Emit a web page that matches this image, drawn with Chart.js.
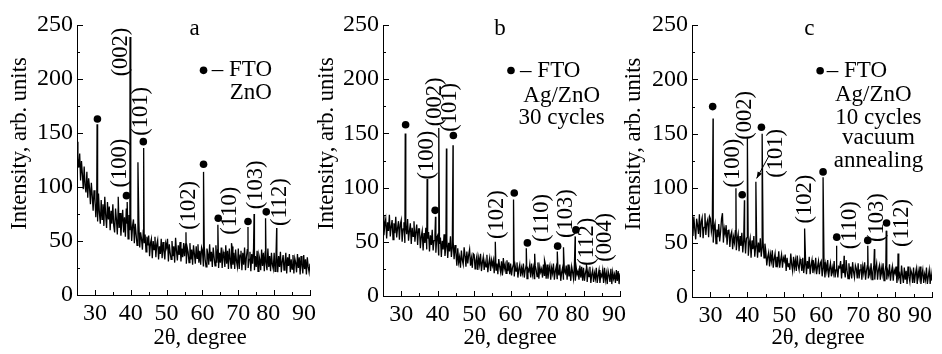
<!DOCTYPE html>
<html><head><meta charset="utf-8">
<script src="https://cdn.jsdelivr.net/npm/chart.js@4.4.1/dist/chart.umd.min.js"></script>
<style>
html,body{margin:0;padding:0;background:#fff;}
#wrap{position:relative;width:942px;height:354px;overflow:hidden;background:#fff;}
#wrap canvas{position:absolute;left:0;top:0;}
</style></head><body>
<div id="wrap">
<canvas id="ca" width="942" height="354"></canvas>
<canvas id="cb" width="942" height="354"></canvas>
<canvas id="cc" width="942" height="354"></canvas>
</div>
<script>
// ---------- axis ticks ----------
const xTickVals = [30,40,50,60,70,80,90];
const xMinorVals = [35,45,55,65,75,85];
const yTickVals = [0,50,100,150,200,250];
const yMinorVals = [25,75,125,175,225];

// ---------- measured pattern: background readings every 0.25 deg from 25 to 90 ----------
const angleStart = 25, angleStep = 0.25;

const backgroundA = [
 142,126,118,131,106,124,112,98,119,101,95,114,90,108,99,84,104,92,78,97,
 90,72,86,68,94,76,66,88,70,84,64,91,74,62,86,70,82,60,78,66,
 84,64,58,80,70,56,82,62,76,55,68,79,58,72,54,80,66,52,74,60,
 72,50,64,70,48,66,56,46,62,68,44,58,52,42,60,48,56,40,54,46,
 55,36,48,52,34,50,42,54,35,47,51,33,45,38,52,34,49,41,33,48,
 44,52,31,47,39,33,50,36,45,30,53,41,32,46,37,49,31,43,35,48,
 36,47,29,44,40,30,48,33,42,28,46,38,29,45,34,47,30,41,28,44,
 41,27,45,33,26,43,38,28,47,31,40,26,44,35,27,46,30,42,25,39,
 30,44,25,40,36,26,46,29,41,24,43,33,25,45,28,39,24,42,31,26,
 43,24,37,41,23,39,28,44,23,35,42,25,33,40,22,38,29,43,23,36,
 26,41,22,37,33,23,42,27,39,22,40,30,23,43,26,36,22,39,28,24,
 39,22,34,38,21,36,26,40,21,31,37,23,30,39,20,35,27,38,21,33,
 24,37,20,34,30,21,38,25,35,19,36,28,20,37,24,33,19,35,26,21,
 29];
const peakAngleA = [30.6,36.5,39.0,39.8,42.0,43.6,55.4,60.3,64.3,68.1,72.7,74.4,77.6,80.7];
const peakIntA   = [158,91,86,239,123,136,58,114,65,48,63,75,71,62];
const ftoAngleA  = [30.7,38.8,43.5,60.3,64.4,72.7,77.8];
const ftoIntA    = [163,92,142,121,71,68,77];

const backgroundB = [
 74,56,66,71,53,68,60,75,55,64,70,52,67,58,73,54,63,69,52,66,
 70,50,62,68,49,65,57,71,51,60,67,48,63,55,69,50,59,66,47,62,
 62,44,55,60,42,58,49,63,43,53,59,41,56,47,61,42,51,57,40,54,
 56,38,48,54,36,51,43,57,37,46,53,35,49,41,55,36,45,50,34,47,
 40,28,44,31,36,26,42,33,29,45,37,27,41,30,38,43,28,35,26,39,
 38,25,33,37,24,35,29,39,23,31,36,24,32,27,38,22,30,35,23,33,
 28,33,21,36,24,30,20,34,27,22,32,19,35,25,29,21,33,23,31,20,
 30,19,26,29,18,28,23,31,17,25,29,18,26,21,30,17,24,28,16,25,
 23,29,17,30,20,26,16,28,24,18,31,16,27,22,25,17,29,19,30,16,
 29,16,24,28,15,26,21,30,15,23,27,16,24,19,29,14,22,26,15,23,
 21,28,15,29,18,24,14,27,22,16,29,14,26,20,23,15,28,17,27,14,
 26,14,21,25,13,23,18,27,12,20,24,13,21,16,26,12,19,24,12,20,
 18,24,12,26,15,21,11,23,19,13,25,11,22,16,20,12,24,14,23,11,
 21];
const peakAngleB = [31.1,37.1,39.4,40.3,42.4,44.2,55.8,60.8,64.3,66.6,69.3,72.8,74.5,77.7,80.8];
const peakIntB   = [150,108,73,155,136,139,50,89,44,39,33,41,45,55,30];
const ftoAngleB  = [31.2,39.3,44.3,61.0,64.6,72.9,77.9];
const ftoIntB    = [158,79,148,95,49,46,61];

const backgroundC = [
 70,56,74,62,53,72,66,58,76,55,69,73,54,64,77,57,68,71,55,74,
 72,60,66,50,64,68,49,62,55,67,51,60,72,77,50,63,58,66,48,61,
 62,46,57,60,44,55,50,61,43,53,58,42,56,47,59,41,52,57,40,54,
 55,38,49,54,36,52,44,56,37,47,53,36,50,41,54,37,46,51,36,49,
 42,29,37,41,28,39,33,43,27,35,40,28,37,31,42,27,34,39,27,36,
 33,39,24,36,28,31,25,40,30,24,37,27,34,24,38,29,25,35,31,24,
 36,22,30,35,21,33,26,37,21,29,34,22,30,25,36,21,28,33,21,31,
 33,19,27,32,18,30,24,34,18,26,31,19,27,22,33,18,25,30,18,28,
 27,33,17,30,22,25,18,34,24,17,31,21,28,17,32,23,18,29,26,17,
 31,17,25,30,16,28,22,32,16,24,29,17,25,20,31,16,23,29,16,26,
 31,16,25,29,16,27,21,31,15,23,29,16,24,20,30,15,23,28,15,25,
 22,28,13,26,18,21,12,29,20,13,27,16,24,12,28,19,14,25,22,13,
 27,13,21,26,12,24,18,28,12,20,25,13,21,16,27,12,19,25,12,22,
 15];
const peakAngleC = [30.7,36.9,39.2,40.0,42.3,44.0,55.5,60.5,64.1,66.2,72.6,74.4,77.6,80.8];
const peakIntC   = [164,100,89,146,106,150,63,110,47,38,47,44,61,40];
const ftoAngleC  = [30.6,38.6,43.8,60.5,64.2,72.6,77.7];
const ftoIntC    = [175,94,156,115,55,52,68];

// ---------- texts ----------
const hklA = ['(002)','(101)','(100)','(102)','(110)','(103)','(112)'];
const hklB = ['(100)','(002)','(101)','(102)','(110)','(103)','(112)','(004)'];
const hklC = ['(100)','(002)','(101)','(102)','(110)','(103)','(112)'];
const panelLetters = ['a','b','c'];
const notesA = ['ZnO'];
const notesB = ['Ag/ZnO','30 cycles'];
const notesC = ['Ag/ZnO','10 cycles','vacuum','annealing'];
const ftoLegend = '\u2013 FTO';
const yTitle = 'Intensity, arb. units';
const xTitle = '2\u03b8, degree';

// ---------- layout (positions in data units of each panel) ----------
const FF = "'Liberation Serif','DejaVu Serif','Times New Roman',serif";
const EN = '\u2002';
const layouts = [
 { id:'ca', padLeft:0,   yW:77, padRight:632, xH:59, tickPad:{80:EN, 90:EN}, letter:[57.8,246],
   legend:[60.3,208,62.6], notes:[[73.5,187]], hklPos:[[37.2,225],[42.8,170],[36.9,122],[56.4,83],[67.8,78],[74.9,102],[81.6,86]],
   yTitlePos:[20,143.5], xTitlePos:[200,338], arrow:null },
 { id:'cb', padLeft:318, yW:65, padRight:322, xH:58, tickPad:{80:EN, 90:EN}, letter:[57.1,246],
   legend:[60.1,208,62.6], notes:[[74,185],[74,164]], hklPos:[[37.2,130],[39.3,179],[43.4,174],[56.2,75],[68.7,72],[75.2,76],[80.9,50],[85.9,54]],
   yTitlePos:[327,143.5], xTitlePos:[510,338], arrow:null },
 { id:'cc', padLeft:628, yW:64, padRight:10, xH:57, tickPad:{80:EN, 90:EN+EN}, letter:[56.8,246],
   legend:[59.7,208,61.5], notes:[[74.1,186],[75.5,165],[75.5,146],[75.5,125]], hklPos:[[36.2,123],[39.4,167],[47.9,132],[55.5,90],[67.8,66],[75.0,73],[81.8,68]],
   yTitlePos:[634,144], xTitlePos:[818,338], arrow:[45.9,130,42.5,109] }
];

function buildSeries(bg, pA, pI){
  const pts = bg.map((v,i)=>({x: angleStart + i*angleStep, y: v}));
  pA.forEach((a,i)=>pts.push({x:a, y:pI[i]}));
  pts.sort((p,q)=>p.x-q.x);
  return pts;
}
function buildDots(a, I){ return a.map((v,i)=>({x:v, y:I[i]})); }

function text(ctx, s, x, y, size, align, rot){
  ctx.save();
  ctx.translate(x,y);
  if (rot) ctx.rotate(rot);
  ctx.font = size + 'px ' + FF;
  ctx.fillStyle = '#000';
  ctx.textAlign = align || 'center';
  ctx.textBaseline = 'middle';
  ctx.fillText(s,0,0);
  ctx.restore();
}

function overlay(L, hkl, notes, letter){
  return {
    id:'ov_'+L.id,
    afterDraw(chart){
      const ctx = chart.ctx, xs = chart.scales.x, ys = chart.scales.y;
      const ca = chart.chartArea;
      ctx.save();
      ctx.strokeStyle = '#000'; ctx.lineWidth = 1;
      ctx.beginPath();
      xTickVals.forEach(v=>{ const p = Math.round(xs.getPixelForValue(v))+0.5; ctx.moveTo(p, ca.bottom); ctx.lineTo(p, ca.bottom-5); });
      xMinorVals.forEach(v=>{ const p = Math.round(xs.getPixelForValue(v))+0.5; ctx.moveTo(p, ca.bottom); ctx.lineTo(p, ca.bottom-3); });
      yTickVals.forEach(v=>{ const p = Math.round(ys.getPixelForValue(v))+0.5; ctx.moveTo(ca.left, p); ctx.lineTo(ca.left+6, p); });
      yMinorVals.forEach(v=>{ const p = Math.round(ys.getPixelForValue(v))+0.5; ctx.moveTo(ca.left, p); ctx.lineTo(ca.left+3, p); });
      ctx.stroke();
      ctx.restore();
      const X = v=>xs.getPixelForValue(v), Y = v=>ys.getPixelForValue(v);
      hkl.forEach((s,i)=>text(ctx, s, X(L.hklPos[i][0]), Y(L.hklPos[i][1]), 22.5, 'center', -Math.PI/2));
      text(ctx, letter, X(L.letter[0]), Y(L.letter[1]), 23, 'center');
      ctx.save(); ctx.fillStyle='#000'; ctx.beginPath();
      ctx.arc(X(L.legend[0]), Y(L.legend[1]), 3.8, 0, Math.PI*2); ctx.fill(); ctx.restore();
      text(ctx, ftoLegend, X(L.legend[2]), Y(L.legend[1]), 23, 'left');
      notes.forEach((s,i)=>text(ctx, s, X(L.notes[i][0]), Y(L.notes[i][1]), 23, 'center'));
      if (L.arrow){
        const x1=X(L.arrow[0]), y1=Y(L.arrow[1]), x2=X(L.arrow[2]), y2=Y(L.arrow[3]);
        ctx.save(); ctx.strokeStyle='#000'; ctx.fillStyle='#000'; ctx.lineWidth=1;
        ctx.beginPath(); ctx.moveTo(x1,y1); ctx.lineTo(x2,y2); ctx.stroke();
        const ang = Math.atan2(y2-y1, x2-x1), h=7;
        ctx.beginPath(); ctx.moveTo(x2,y2);
        ctx.lineTo(x2 - h*Math.cos(ang-0.35), y2 - h*Math.sin(ang-0.35));
        ctx.lineTo(x2 - h*Math.cos(ang+0.35), y2 - h*Math.sin(ang+0.35));
        ctx.closePath(); ctx.fill(); ctx.restore();
      }
      text(ctx, yTitle, L.yTitlePos[0], L.yTitlePos[1], 22.5, 'center', -Math.PI/2);
      text(ctx, xTitle, L.xTitlePos[0], L.xTitlePos[1], 22.5, 'center');
    }
  };
}

function makePanel(L, series, dots, hkl, notes, letter){
  new Chart(document.getElementById(L.id), {
    type:'line',
    data:{ datasets:[
      { data:series, borderColor:'#000', borderWidth:1.3, pointRadius:0, tension:0, fill:false, order:2 },
      { data:dots, showLine:false, pointRadius:3.8, pointBackgroundColor:'#000', pointBorderWidth:0, order:1 }
    ]},
    options:{
      responsive:false, animation:false, events:[],
      layout:{ padding:{ left:L.padLeft, right:L.padRight, top:25, bottom:0 } },
      plugins:{ legend:{display:false}, tooltip:{enabled:false} },
      scales:{
        x:{ type:'linear', min:25, max:90,
            afterBuildTicks:s=>{ s.ticks = xTickVals.map(v=>({value:v})); },
            afterFit:s=>{ s.height = L.xH; s.paddingRight = 0; s.paddingLeft = 0; },
            grid:{ display:false, drawTicks:false },
            border:{ display:true, color:'#000', width:1 },
            ticks:{ padding:4, color:'#000', autoSkip:false, maxRotation:0, font:{family:FF, size:24},
                    callback:v=> String(v) + (L.tickPad[v] || '') } },
        y:{ type:'linear', min:0, max:250,
            afterBuildTicks:s=>{ s.ticks = yTickVals.map(v=>({value:v})); },
            afterFit:s=>{ s.width = L.yW; s.paddingTop = 0; s.paddingBottom = 0; },
            grid:{ display:false, drawTicks:false },
            border:{ display:true, color:'#000', width:1 },
            ticks:{ padding:4, color:'#000', font:{family:FF, size:24} } }
      }
    },
    plugins:[ overlay(L, hkl, notes, letter) ]
  });
}

function start(){
  makePanel(layouts[0], buildSeries(backgroundA, peakAngleA, peakIntA), buildDots(ftoAngleA, ftoIntA), hklA, notesA, panelLetters[0]);
  makePanel(layouts[1], buildSeries(backgroundB, peakAngleB, peakIntB), buildDots(ftoAngleB, ftoIntB), hklB, notesB, panelLetters[1]);
  makePanel(layouts[2], buildSeries(backgroundC, peakAngleC, peakIntC), buildDots(ftoAngleC, ftoIntC), hklC, notesC, panelLetters[2]);
}
if (document.fonts && document.fonts.load) {
  Promise.all([
    document.fonts.load("24px 'Liberation Serif'"),
    document.fonts.load("24px 'DejaVu Serif'")
  ]).then(start, start);
} else { start(); }
</script>
</body></html>
